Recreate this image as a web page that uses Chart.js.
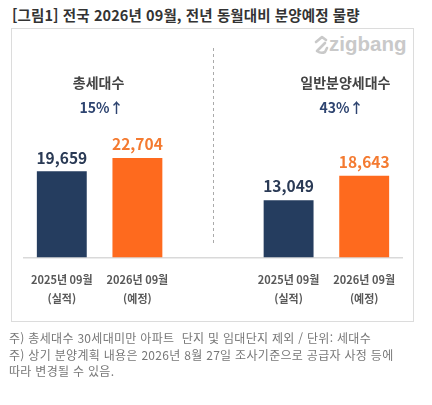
<!DOCTYPE html>
<html lang="ko">
<head>
  <meta charset="UTF-8">
  <title>분양예정 물량</title>
  <script src="https://cdn.jsdelivr.net/npm/chart.js@4.4.0/dist/chart.umd.min.js"></script>
  <style>
    body { margin: 0; background: #fff; font-family: "Noto Sans CJK KR", sans-serif; }
    #wrap { position: relative; width: 432px; height: 405px; overflow: hidden; }
    .abs { position: absolute; white-space: pre; }
    #title { left: 12px; top: 4px; font-size: 14.5px; letter-spacing: 0.1px; font-weight: bold; color: #333; }
    #box { left: 11px; top: 28px; width: 401px; height: 292px; border: 1px solid #dcdcdc; }
    .head { font-size: 14px; font-weight: bold; color: #444; transform: translateX(-50%); }
    .pct { font-size: 14px; font-weight: bold; color: #2e4470; transform: translateX(-50%); }
    .note { left: 9px; font-size: 12px; letter-spacing: 0.3px; color: #777; }
    #logo { left: 312px; top: 33px; }
    canvas { position: absolute; left: 0; top: 0; }
  </style>
</head>
<body>
<div id="wrap">
  <div class="abs" id="title">[그림1] 전국 2026년 09월, 전년 동월대비 분양예정 물량</div>
  <div class="abs" id="box"></div>
  <svg class="abs" id="logo" width="100" height="24" viewBox="0 0 100 24">
    <path d="M4 9 L10 4 L14 7 M13 10 L5 18 Q9 21 13 19 L15 15" fill="none" stroke="#c9c9c9" stroke-width="2.6" stroke-linecap="round" stroke-linejoin="round"/>
    <text x="17" y="18" font-family="Arial, sans-serif" font-weight="bold" font-size="20.5" fill="#c9c9c9">zigbang</text>
  </svg>
  <canvas id="chart" width="432" height="405"></canvas>
  <div id="heads"></div>
  <div class="abs note" style="top:329px">주) 총세대수 30세대미만 아파트  단지 및 임대단지 제외 / 단위: 세대수</div>
  <div class="abs note" style="top:346px">주) 상기 분양계획 내용은 2026년 8월 27일 조사기준으로 공급자 사정 등에</div>
  <div class="abs note" style="top:362px">따라 변경될 수 있음.</div>
</div>

<script>
  // data
  const groupNames = ['총세대수', '일반분양세대수'];
  const growth = ['15%↑', '43%↑'];
  const actual2025 = [19659, 13049];
  const plan2026 = [22704, 18643];
  const tickLabels = [['2025년 09월', '(실적)'], ['2026년 09월', '(예정)']];

  const navy = '#253d5f';
  const orange = '#fe6a1e';

  // 5 slots: two bars, an empty gap (divider), two bars
  const labels = [tickLabels[0], tickLabels[1], '', tickLabels[0], tickLabels[1]];
  const values = [actual2025[0], plan2026[0], null, actual2025[1], plan2026[1]];
  const colors = [navy, orange, navy, navy, orange];
  const textColors = ['#2a3a55', '#f47a30', '#000', '#2a3a55', '#f47a30'];

  const extras = {
    id: 'extras',
    afterDatasetsDraw(chart) {
      const ctx = chart.ctx;
      const meta = chart.getDatasetMeta(0);
      ctx.save();
      ctx.font = 'bold 15.5px "Noto Sans CJK KR"';
      ctx.textAlign = 'center';
      ctx.textBaseline = 'bottom';
      meta.data.forEach((bar, i) => {
        if (values[i] == null) return;
        ctx.fillStyle = textColors[i];
        ctx.fillText(values[i].toLocaleString('en-US'), bar.x, bar.y - 6);
      });
      // dashed divider at the empty middle slot
      const x = chart.scales.x.getPixelForValue(2);
      ctx.strokeStyle = '#aaa';
      ctx.lineWidth = 1;
      ctx.setLineDash([3, 3]);
      ctx.beginPath();
      ctx.moveTo(Math.round(x) + 0.5, 48);
      ctx.lineTo(Math.round(x) + 0.5, 244);
      ctx.stroke();
      ctx.restore();

      // group headings centred over each pair of bars
      const heads = document.getElementById('heads');
      heads.innerHTML = '';
      const sx = chart.scales.x;
      const centers = [(sx.getPixelForValue(0) + sx.getPixelForValue(1)) / 2,
                       (sx.getPixelForValue(3) + sx.getPixelForValue(4)) / 2];
      groupNames.forEach((name, g) => {
        const h = document.createElement('div');
        h.className = 'abs head';
        h.style.left = (centers[g] - 1 + g * 20) + 'px';
        h.style.top = '72px';
        h.textContent = name;
        heads.appendChild(h);
        const p = document.createElement('div');
        p.className = 'abs pct';
        p.style.left = (centers[g] + 2 + g * 13) + 'px';
        p.style.top = '97px';
        p.textContent = growth[g];
        heads.appendChild(p);
      });
    }
  };

  new Chart(document.getElementById('chart'), {
    type: 'bar',
    data: {
      labels: labels,
      datasets: [{
        data: values,
        backgroundColor: colors,
        categoryPercentage: 1,
        barPercentage: 0.66
      }]
    },
    options: {
      responsive: false,
      animation: false,
      layout: { padding: { left: 24, right: 30, top: 126, bottom: 84 } },
      plugins: { legend: { display: false }, tooltip: { enabled: false } },
      scales: {
        x: {
          grid: { display: false, drawTicks: false },
          border: { display: true, color: '#d9d9d9', width: 1.5 },
          ticks: {
            padding: 13,
            color: '#595959',
            maxRotation: 0,
            autoSkip: false,
            font: { family: 'Noto Sans CJK KR', size: 11, weight: 'bold', lineHeight: 1.7 }
          }
        },
        y: {
          display: false,
          min: 0,
          max: 30000
        }
      }
    },
    plugins: [extras]
  });
</script>
</body>
</html>
